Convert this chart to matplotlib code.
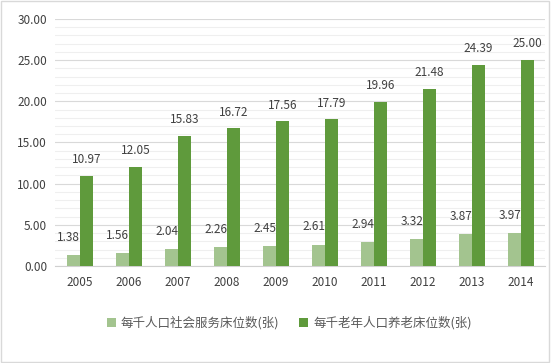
import matplotlib
matplotlib.use("Agg")
import matplotlib.pyplot as plt
import numpy as np
from matplotlib.patches import Rectangle

plt.rcParams['font.family'] = ['Noto Sans CJK SC', 'DejaVu Sans']

years = ['2005', '2006', '2007', '2008', '2009', '2010', '2011', '2012', '2013', '2014']
service_beds = [1.38, 1.56, 2.04, 2.26, 2.45, 2.61, 2.94, 3.32, 3.87, 3.97]
elderly_beds = [10.97, 12.05, 15.83, 16.72, 17.56, 17.79, 19.96, 21.48, 24.39, 25.00]
series_names = ['每千人口社会服务床位数(张)', '每千老年人口养老床位数(张)']

c_light = '#A3C48F'
c_dark = '#5F9A3C'
txt = '#404040'

fig = plt.figure(figsize=(5.51, 3.63), dpi=100)
ax = fig.add_axes([0.1007, 0.267, 0.889, 0.681])

x = np.arange(len(years))
w = 0.26
b1 = ax.bar(x - w/2, service_beds, w, color=c_light, label=series_names[0], zorder=3)
b2 = ax.bar(x + w/2, elderly_beds, w, color=c_dark, label=series_names[1], zorder=3)

for xi, v in zip(x, service_beds):
    ax.annotate(f'{v:.2f}', (xi - w/2 - 0.1, v), xytext=(0, 8), textcoords='offset points',
                ha='center', va='bottom', fontsize=8.5, color=txt)
for xi, v in zip(x, elderly_beds):
    ax.annotate(f'{v:.2f}', (xi + w/2, v), xytext=(0, 7), textcoords='offset points',
                ha='center', va='bottom', fontsize=8.5, color=txt)

ax.set_xlim(-0.5, len(years) - 0.5)
ax.set_ylim(0, 30)
ax.set_yticks(np.arange(0, 31, 5))
ax.set_yticklabels([f'{t:.2f}' for t in np.arange(0, 31, 5)])
ax.set_yticks(np.arange(0, 31, 1), minor=True)
ax.set_xticks(x)
ax.set_xticklabels(years)
ax.tick_params(axis='both', which='both', length=0, labelsize=8.5, labelcolor=txt)
ax.tick_params(axis='x', pad=7)
ax.tick_params(axis='y', pad=6)
ax.grid(axis='y', which='minor', color='#EFEFEF', linewidth=0.8, zorder=0)
ax.grid(axis='y', which='major', color='#D9D9D9', linewidth=0.8, zorder=1)
for s in ['top', 'right', 'left']:
    ax.spines[s].set_visible(False)
ax.spines['bottom'].set_color('#D0D0D0')
ax.spines['bottom'].set_linewidth(0.8)

leg = fig.legend(handles=[b1, b2], loc='center', bbox_to_anchor=(0.525, 0.11), ncol=2,
                 frameon=False, fontsize=9, handlelength=0.7, handleheight=0.7,
                 columnspacing=1.6, handletextpad=0.4)
for t in leg.get_texts():
    t.set_color('#595959')

fig.patches.append(Rectangle((0.002, 0.003), 0.995, 0.993, transform=fig.transFigure,
                             fill=False, edgecolor='#D9D9D9', linewidth=1))

fig.savefig('out.png', dpi=100)
